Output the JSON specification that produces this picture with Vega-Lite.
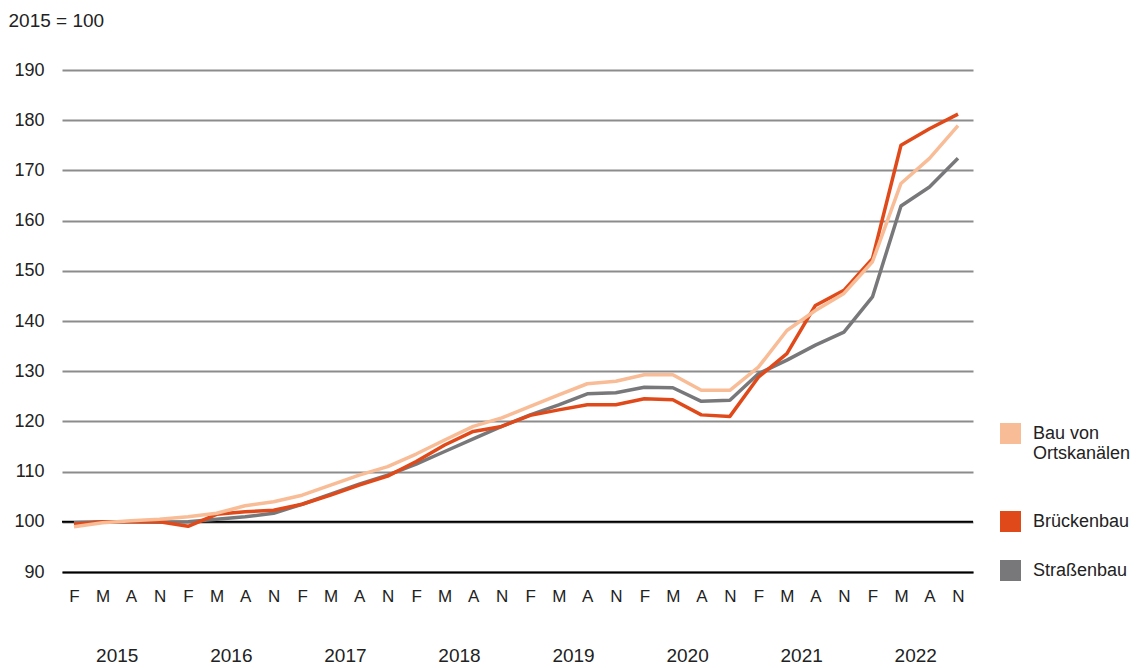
{
  "$schema": "https://vega.github.io/schema/vega-lite/v6.json",
  "width": 911,
  "height": 502,
  "autosize": "none",
  "padding": {"left": 62, "top": 70, "right": 170, "bottom": 96},
  "background": "white",
  "config": {
    "font": "Liberation Sans",
    "view": {"stroke": null},
    "axisY": {
      "grid": true, "gridColor": "#8c8c8c", "gridWidth": 2, "domain": false, "ticks": false,
      "labelFontSize": 18, "labelColor": "#222", "labelPadding": 18,
      "values": [90, 100, 110, 120, 130, 140, 150, 160, 170, 180, 190],
      "titleAngle": 0, "titleX": -54, "titleY": -50, "titleAlign": "left", "titleBaseline": "middle",
      "titleFontSize": 19, "titleFontWeight": "normal", "titleColor": "#222"
    }
  },
  "layer": [
    {
      "data": {"values": [{"ref": 100}]},
      "mark": {"type": "rule", "color": "#000000", "strokeWidth": 2},
      "encoding": {
        "y": {"field": "ref", "type": "quantitative", "title": "2015 = 100", "scale": {"domain": [90, 190], "nice": false, "zero": false}}
      }
    },
    {
      "data": {"values": [
        {"i": 0, "Bau von Ortskanälen": 99.0, "Brückenbau": 99.5, "Straßenbau": 99.8},
        {"i": 1, "Bau von Ortskanälen": 99.8, "Brückenbau": 100.0, "Straßenbau": 100.0},
        {"i": 2, "Bau von Ortskanälen": 100.2, "Brückenbau": 100.0, "Straßenbau": 100.0},
        {"i": 3, "Bau von Ortskanälen": 100.5, "Brückenbau": 100.0, "Straßenbau": 99.9},
        {"i": 4, "Bau von Ortskanälen": 101.0, "Brückenbau": 99.1, "Straßenbau": 100.0},
        {"i": 5, "Bau von Ortskanälen": 101.7, "Brückenbau": 101.5, "Straßenbau": 100.5},
        {"i": 6, "Bau von Ortskanälen": 103.2, "Brückenbau": 102.0, "Straßenbau": 101.0},
        {"i": 7, "Bau von Ortskanälen": 104.0, "Brückenbau": 102.3, "Straßenbau": 101.7},
        {"i": 8, "Bau von Ortskanälen": 105.3, "Brückenbau": 103.5, "Straßenbau": 103.5},
        {"i": 9, "Bau von Ortskanälen": 107.3, "Brückenbau": 105.3, "Straßenbau": 105.5},
        {"i": 10, "Bau von Ortskanälen": 109.3, "Brückenbau": 107.3, "Straßenbau": 107.5},
        {"i": 11, "Bau von Ortskanälen": 111.0, "Brückenbau": 109.1, "Straßenbau": 109.3},
        {"i": 12, "Bau von Ortskanälen": 113.5, "Brückenbau": 112.0, "Straßenbau": 111.5},
        {"i": 13, "Bau von Ortskanälen": 116.3, "Brückenbau": 115.3, "Straßenbau": 114.0},
        {"i": 14, "Bau von Ortskanälen": 119.0, "Brückenbau": 118.0, "Straßenbau": 116.5},
        {"i": 15, "Bau von Ortskanälen": 120.7, "Brückenbau": 119.0, "Straßenbau": 119.0},
        {"i": 16, "Bau von Ortskanälen": 123.0, "Brückenbau": 121.2, "Straßenbau": 121.3},
        {"i": 17, "Bau von Ortskanälen": 125.3, "Brückenbau": 122.3, "Straßenbau": 123.3},
        {"i": 18, "Bau von Ortskanälen": 127.5, "Brückenbau": 123.3, "Straßenbau": 125.5},
        {"i": 19, "Bau von Ortskanälen": 128.0, "Brückenbau": 123.3, "Straßenbau": 125.7},
        {"i": 20, "Bau von Ortskanälen": 129.3, "Brückenbau": 124.5, "Straßenbau": 126.8},
        {"i": 21, "Bau von Ortskanälen": 129.3, "Brückenbau": 124.3, "Straßenbau": 126.7},
        {"i": 22, "Bau von Ortskanälen": 126.2, "Brückenbau": 121.3, "Straßenbau": 124.0},
        {"i": 23, "Bau von Ortskanälen": 126.2, "Brückenbau": 121.0, "Straßenbau": 124.2},
        {"i": 24, "Bau von Ortskanälen": 130.8, "Brückenbau": 128.8, "Straßenbau": 129.5},
        {"i": 25, "Bau von Ortskanälen": 138.1, "Brückenbau": 133.5, "Straßenbau": 132.2},
        {"i": 26, "Bau von Ortskanälen": 142.1, "Brückenbau": 143.1, "Straßenbau": 135.2},
        {"i": 27, "Bau von Ortskanälen": 145.5, "Brückenbau": 146.1, "Straßenbau": 137.8},
        {"i": 28, "Bau von Ortskanälen": 151.8, "Brückenbau": 152.4, "Straßenbau": 144.8},
        {"i": 29, "Bau von Ortskanälen": 167.4, "Brückenbau": 175.0, "Straßenbau": 162.9},
        {"i": 30, "Bau von Ortskanälen": 172.4, "Brückenbau": 178.3, "Straßenbau": 166.7},
        {"i": 31, "Bau von Ortskanälen": 178.9, "Brückenbau": 181.2, "Straßenbau": 172.4}
      ]},
      "transform": [{"fold": ["Straßenbau", "Brückenbau", "Bau von Ortskanälen"], "as": ["Serie", "Wert"]}],
      "mark": {"type": "line", "strokeWidth": 3.5, "strokeJoin": "round"},
      "encoding": {
        "x": {
          "field": "i", "type": "quantitative",
          "scale": {"domain": [-0.42, 31.526], "nice": false, "zero": false},
          "axis": {
            "orient": "bottom", "title": null, "grid": false, "ticks": false,
            "domain": true, "domainColor": "#000000", "domainWidth": 2,
            "values": [0,1,2,3,4,5,6,7,8,9,10,11,12,13,14,15,16,17,18,19,20,21,22,23,24,25,26,27,28,29,30,31],
            "labelExpr": "['F','M','A','N'][datum.value % 4]",
            "labelFontSize": 17, "labelColor": "#222",
            "labelPadding": 16, "labelAngle": 0, "labelOverlap": false, "labelFlush": false
          }
        },
        "y": {"field": "Wert", "type": "quantitative", "title": "2015 = 100", "scale": {"domain": [90, 190], "nice": false, "zero": false}},
        "color": {
          "field": "Serie", "type": "nominal",
          "scale": {
            "domain": ["Bau von Ortskanälen", "Brückenbau", "Straßenbau"],
            "range": ["#f8bc96", "#e04a1a", "#78787b"]
          },
          "legend": {
            "title": null, "orient": "none", "legendX": 938, "legendY": 353,
            "symbolType": "square", "symbolSize": 440, "symbolStrokeWidth": 0,
            "labelFontSize": 18, "labelColor": "#222", "labelOffset": 12, "rowPadding": 28,
            "labelLimit": 200,
            "labelExpr": "datum.label == 'Bau von Ortskanälen' ? ['Bau von', 'Ortskanälen', ''] : datum.label",
            "encode": {"symbols": {"update": {"fill": {"scale": "color", "field": "value"}, "strokeWidth": {"value": 0}, "opacity": {"value": 1}}}}
          }
        }
      }
    },
    {
      "data": {"values": [
        {"pos": 1.5, "Jahr": "2015"}, {"pos": 5.5, "Jahr": "2016"}, {"pos": 9.5, "Jahr": "2017"}, {"pos": 13.5, "Jahr": "2018"},
        {"pos": 17.5, "Jahr": "2019"}, {"pos": 21.5, "Jahr": "2020"}, {"pos": 25.5, "Jahr": "2021"}, {"pos": 29.5, "Jahr": "2022"}
      ]},
      "mark": {"type": "point", "opacity": 0},
      "encoding": {
        "x": {
          "field": "pos", "type": "quantitative",
          "scale": {"domain": [-0.42, 31.526], "nice": false, "zero": false},
          "axis": {
            "orient": "bottom", "title": null, "grid": false, "ticks": false, "domain": false,
            "values": [1.5, 5.5, 9.5, 13.5, 17.5, 21.5, 25.5, 29.5],
            "labelExpr": "'' + (2015 + floor(datum.value / 4))",
            "labelFontSize": 19, "labelColor": "#222",
            "labelPadding": 74, "labelAngle": 0, "labelOverlap": false, "labelFlush": false
          }
        }
      }
    }
  ],
  "resolve": {"scale": {"x": "independent"}, "axis": {"x": "independent"}}
}
